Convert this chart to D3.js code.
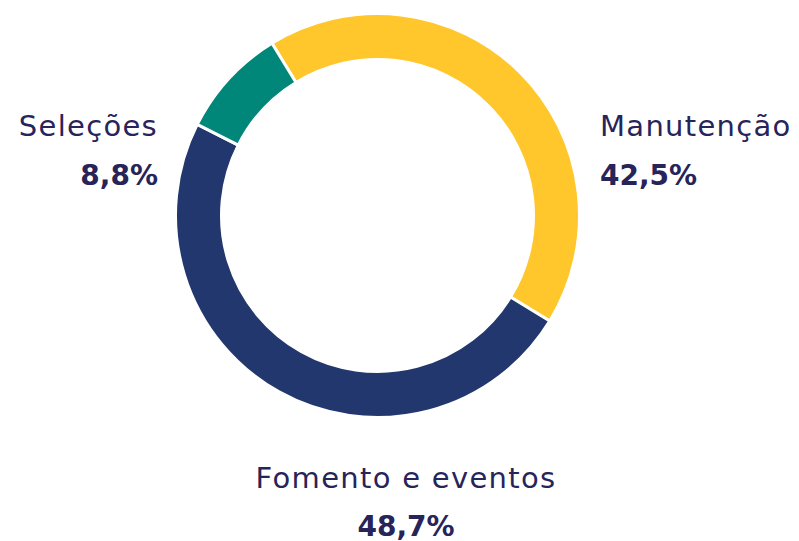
<!DOCTYPE html>
<html>
<head>
<meta charset="utf-8">
<script src="https://cdn.jsdelivr.net/npm/d3@7"></script>
<style>
  html, body { margin: 0; padding: 0; background: #ffffff; }
  svg { display: block; }
  text { font-family: "DejaVu Sans", sans-serif; fill: #27245a; }
</style>
</head>
<body>
<svg id="chart" width="799" height="541"></svg>
<script>
const categories = ["Manutenção", "Fomento e eventos", "Seleções"];
const values = [42.5, 48.7, 8.8];
const valueLabels = ["42,5%", "48,7%", "8,8%"];
const colors = ["#ffc72c", "#22376d", "#00877a"];

const svg = d3.select("#chart");
const cx = 377.5, cy = 215.5, outerR = 202, innerR = 156;

const data = categories.map((c, i) => ({ name: c, value: values[i], label: valueLabels[i], color: colors[i] }));

const startDeg = -31.5;
const pie = d3.pie().sort(null).value(d => d.value)
  .startAngle(startDeg * Math.PI / 180)
  .endAngle((startDeg + 360) * Math.PI / 180);
const arc = d3.arc().innerRadius(innerR).outerRadius(outerR);

const g = svg.append("g").attr("transform", `translate(${cx},${cy})`);
g.selectAll("path").data(pie(data)).join("path")
  .attr("d", arc)
  .attr("fill", d => d.data.color)
  .attr("stroke", "#ffffff")
  .attr("stroke-width", 3);

const labelPos = [
  { x: 600, y1: 136, y2: 185, anchor: "start" },
  { x: 406, y1: 488, y2: 536, anchor: "middle" },
  { x: 158, y1: 136, y2: 185, anchor: "end" }
];

data.forEach((d, i) => {
  const p = labelPos[i];
  svg.append("text").attr("x", p.x).attr("y", p.y1).attr("text-anchor", p.anchor)
    .style("font-size", "29px").style("letter-spacing", "1.3px").text(d.name);
  svg.append("text").attr("x", p.x).attr("y", p.y2).attr("text-anchor", p.anchor)
    .style("font-size", "28px").style("font-weight", "bold").text(d.label);
});
</script>
</body>
</html>
